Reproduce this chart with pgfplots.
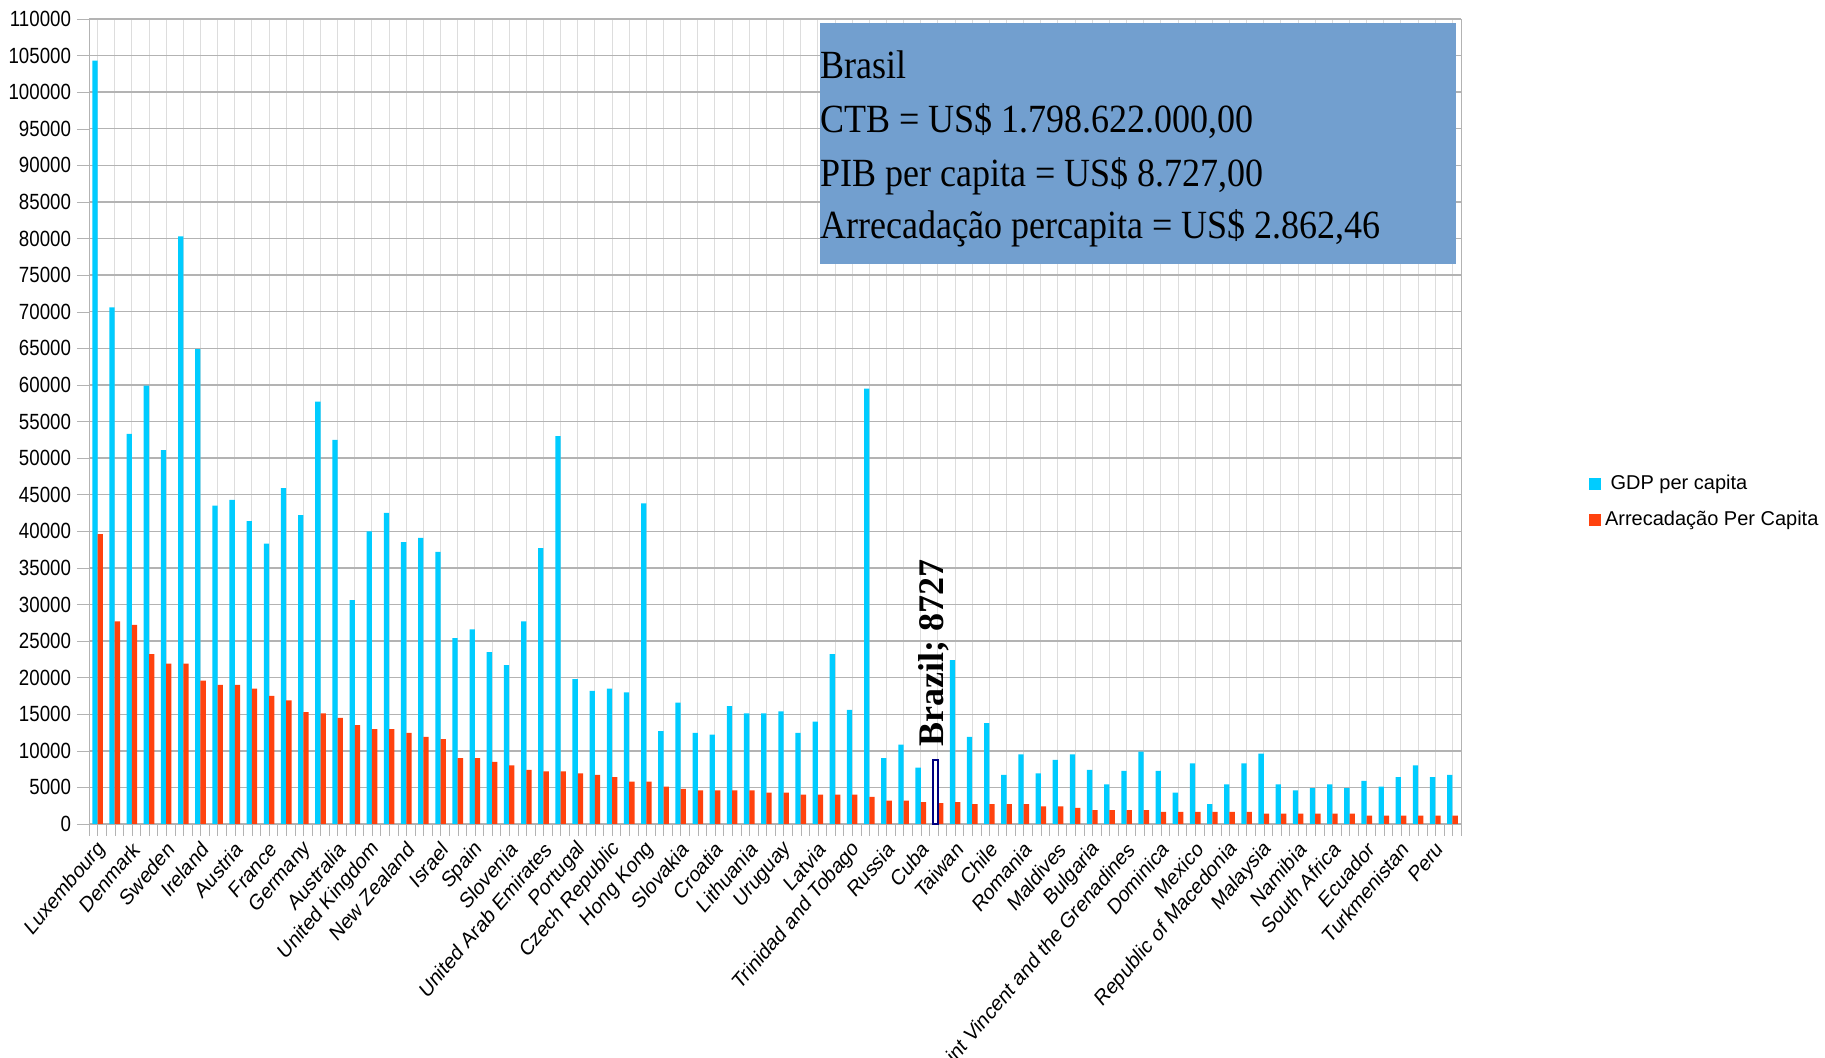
\documentclass[border=0pt]{standalone}
\usepackage{pgfplots}
\pgfplotsset{compat=1.18}
\usepackage{pgfplotstable}
\usepackage{fontspec}
\setmainfont{Liberation Sans}
\newfontfamily\serif{Liberation Serif}

\definecolor{gdpcyan}{HTML}{00CCFF}
\definecolor{arrred}{HTML}{FF420E}
\definecolor{boxblue}{HTML}{729FCF}
\definecolor{gridgray}{HTML}{B3B3B3}
\definecolor{vgridgray}{HTML}{DDDDDD}
\definecolor{brnavy}{HTML}{000080}

% GDP per capita (Brazil, idx 49, is drawn on its own)
\pgfplotstableread{
idx gdp
0 104300
1 70600
2 53300
3 59900
4 51100
5 80300
6 64900
7 43500
8 44300
9 41400
10 38300
11 45900
12 42200
13 57700
14 52500
15 30600
16 40000
17 42500
18 38500
19 39100
20 37200
21 25400
22 26600
23 23500
24 21700
25 27700
26 37700
27 53000
28 19800
29 18200
30 18500
31 18000
32 43800
33 12700
34 16600
35 12450
36 12200
37 16100
38 15100
39 15100
40 15400
41 12450
42 14000
43 23200
44 15600
45 59500
46 9000
47 10850
48 7700
50 22400
51 11900
52 13800
53 6700
54 9500
55 6900
56 8750
57 9500
58 7400
59 5400
60 7250
61 9900
62 7250
63 4300
64 8300
65 2700
66 5400
67 8300
68 9600
69 5400
70 4600
71 4900
72 5400
73 4900
74 5900
75 5100
76 6400
77 8000
78 6400
79 6700
}\gdptable

% Arrecadacao per capita
\pgfplotstableread{
idx arr
0 39600
1 27700
2 27200
3 23200
4 21900
5 21900
6 19600
7 19000
8 19000
9 18500
10 17500
11 16900
12 15300
13 15100
14 14500
15 13500
16 12950
17 12950
18 12450
19 11900
20 11600
21 9000
22 9000
23 8500
24 8000
25 7400
26 7200
27 7200
28 6900
29 6700
30 6400
31 5800
32 5800
33 5100
34 4800
35 4600
36 4600
37 4600
38 4600
39 4300
40 4300
41 4000
42 4000
43 4000
44 4000
45 3700
46 3200
47 3200
48 3000
49 2862
50 3000
51 2700
52 2700
53 2700
54 2700
55 2400
56 2400
57 2200
58 1900
59 1900
60 1900
61 1900
62 1650
63 1650
64 1650
65 1650
66 1650
67 1650
68 1400
69 1400
70 1400
71 1400
72 1400
73 1400
74 1150
75 1150
76 1150
77 1150
78 1150
79 1150
}\arrtable

\begin{document}
\begin{tikzpicture}
\useasboundingbox (-44.5pt,-117pt) rectangle (868pt,412pt);
\begin{axis}[
    width=686pt, height=402.5pt, scale only axis,
    xmin=-0.5, xmax=79.5,
    ymin=0, ymax=110000,
    ytick={0,5000,...,110000},
    yticklabels={0,5000,10000,15000,20000,25000,30000,35000,40000,45000,50000,55000,60000,65000,70000,75000,80000,85000,90000,95000,100000,105000,110000},
    yticklabel style={font=\fontsize{11}{12}\selectfont, xscale=0.85},
    axis line style={draw=gridgray},
    tick style={draw=gridgray},
    tick align=outside,
    xtick pos=bottom, ytick pos=left,
    major tick length=6pt, minor tick length=6pt,
    xtick={0,1,...,79},
    minor xtick={-0.5,0.5,...,79.5},
    xmajorgrids, ymajorgrids,
    major x grid style={draw=vgridgray, line width=0.5pt},
    major y grid style={draw=gridgray, line width=0.7pt},
    xticklabels={Luxembourg,{},Denmark,{},Sweden,{},Ireland,{},Austria,{},France,{},Germany,{},Australia,{},United Kingdom,{},New Zealand,{},Israel,{},Spain,{},Slovenia,{},United Arab Emirates,{},Portugal,{},Czech Republic,{},Hong Kong,{},Slovakia,{},Croatia,{},Lithuania,{},Uruguay,{},Latvia,{},Trinidad and Tobago,{},Russia,{},Cuba,{},Taiwan,{},Chile,{},Romania,{},Maldives,{},Bulgaria,{},Saint Vincent and the Grenadines,{},Dominica,{},Mexico,{},Republic of Macedonia,{},Malaysia,{},Namibia,{},South Africa,{},Ecuador,{},Turkmenistan,{},Peru,{}},
    xticklabel style={font=\fontsize{11}{12}\selectfont, anchor=east, xshift=3pt, yshift=-4pt, xscale=0.85, rotate=45, inner sep=1pt},
    bar width=0.31,
    legend style={at={(rel axis cs:1.093,0.40)}, anchor=west, draw=none, fill=none,
        font=\fontsize{10}{11}\selectfont, row sep=5pt, inner sep=0pt},
    legend cell align=left,
    legend image code/.code={\fill[#1] (0pt,-3pt) rectangle (6pt,3pt);},
    clip=false,
]
\addplot[ybar, bar shift=-0.155, fill=gdpcyan, draw=none] table[x=idx, y=gdp] {\gdptable};
\addlegendentry{\ GDP per capita}
\addplot[ybar, bar shift=0.155, fill=arrred, draw=none] table[x=idx, y=arr] {\arrtable};
\addlegendentry{Arrecadação Per Capita}
% Brazil highlighted
\addplot[ybar, bar shift=-0.155, fill=white, draw=brnavy, line width=1pt, forget plot] coordinates {(49,8727)};

\node[rotate=90, anchor=west, inner sep=0pt, font=\serif\bfseries\fontsize{18}{18}\selectfont] at (axis cs:48.75,10500) {Brazil; 8727};

\fill[boxblue] (rel axis cs:0.533,0.696) rectangle (rel axis cs:0.996,0.995);
\begin{scope}[every node/.style={anchor=base west, inner sep=0pt, xscale=0.9, font=\serif\fontsize{20}{20}\selectfont}]
\node at (rel axis cs:0.533,0.9255) {Brasil};
\node at (rel axis cs:0.533,0.8584) {CTB = US\$ 1.798.622.000,00};
\node at (rel axis cs:0.533,0.7925) {PIB per capita = US\$ 8.727,00};
\node at (rel axis cs:0.533,0.7267) {Arrecadação percapita = US\$ 2.862,46};
\end{scope}
\end{axis}
\end{tikzpicture}
\end{document}
